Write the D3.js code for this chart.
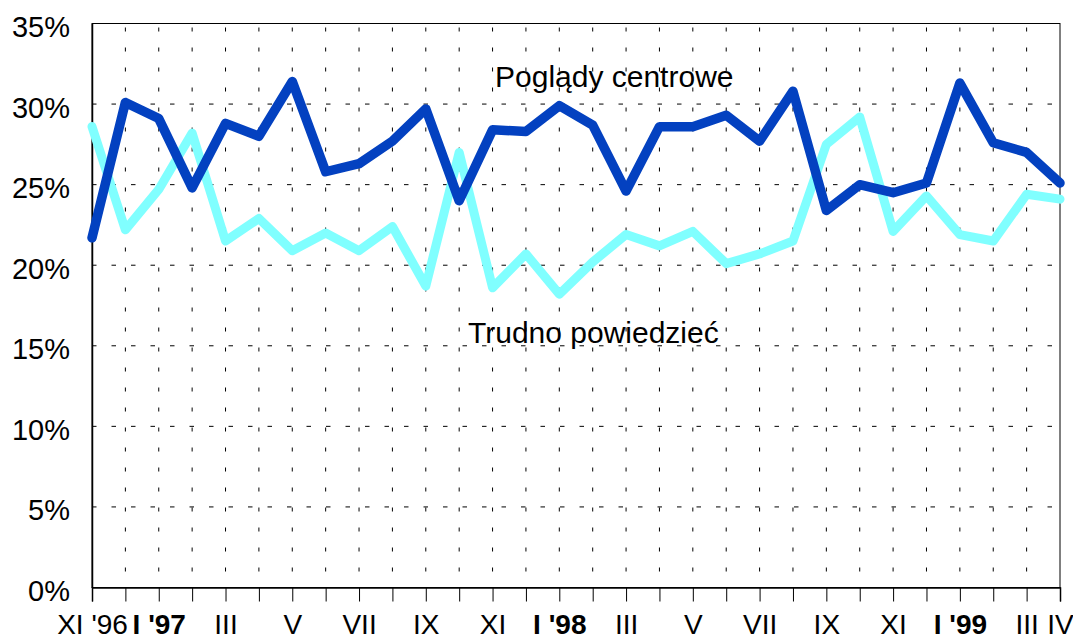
<!DOCTYPE html>
<html>
<head>
<meta charset="utf-8">
<script src="https://cdn.jsdelivr.net/npm/d3@7"></script>
<style>
  body { margin: 0; background: #fff; }
  text { font-family: "Liberation Sans", Arial, sans-serif; fill: #000; }
</style>
</head>
<body>
<div id="chart"></div>
<script>
// months Nov '96 .. Apr '99, label only every second month
var months = ["XI '96","XII","I '97","II","III","IV","V","VI","VII","VIII","IX","X",
  "XI","XII","I '98","II","III","IV","V","VI","VII","VIII","IX","X",
  "XI","XII","I '99","II","III","IV"];
var shownLabels = ["XI '96","","I '97","","III","","V","","VII","","IX","",
  "XI","","I '98","","III","","V","","VII","","IX","",
  "XI","","I '99","","III","IV"];
var boldLabels = ["I '97","I '98","I '99"];

var centrowe = [21.7,30.1,29.1,24.8,28.8,28.0,31.4,25.8,26.3,27.7,29.7,24.0,
  28.4,28.3,29.9,28.7,24.6,28.6,28.6,29.3,27.7,30.8,23.4,25.0,
  24.5,25.1,31.3,27.6,27.0,25.1];
var trudno = [28.6,22.2,24.7,28.2,21.5,22.9,20.9,22.0,20.9,22.4,18.7,27.0,
  18.6,20.7,18.2,20.2,21.9,21.2,22.1,20.1,20.7,21.5,27.5,29.2,
  22.1,24.3,21.9,21.5,24.4,24.1];

var yTicks = [0,5,10,15,20,25,30,35];

var width = 1073,
  height = 637;
var margin = {top: 23.5, right: 13, bottom: 49.5, left: 92};

var svg = d3.select('#chart').append('svg')
  .attr('width', width)
  .attr('height', height);

var x = d3.scalePoint()
  .domain(d3.range(months.length))
  .range([margin.left, width - margin.right]);

var y = d3.scaleLinear()
  .domain([0, 35])
  .range([height - margin.bottom, margin.top]);

// gridlines
svg.append("g")
  .selectAll("line")
  .data(yTicks.filter(function(d) { return d > 0 && d < 35; }))
  .join("line")
  .attr("x1", x(0))
  .attr("x2", x(months.length - 1))
  .attr("y1", function(d) { return y(d); })
  .attr("y2", function(d) { return y(d); })
  .style("stroke", "#000")
  .style("stroke-width", 1)
  .style("stroke-dasharray", "4.5,15");

svg.append("g")
  .selectAll("line")
  .data(d3.range(1, months.length - 1))
  .join("line")
  .attr("x1", function(d) { return x(d); })
  .attr("x2", function(d) { return x(d); })
  .attr("y1", y(0))
  .attr("y2", y(35))
  .style("stroke", "#000")
  .style("stroke-width", 1)
  .style("stroke-dasharray", "0,16,4,0");

// frame
svg.append("rect")
  .attr("x", x(0))
  .attr("y", y(35))
  .attr("width", x(months.length - 1) - x(0))
  .attr("height", y(0) - y(35))
  .style("fill", "none")
  .style("stroke", "#000")
  .style("stroke-width", 1);

// y axis labels
var yAxis = svg.append("g")
  .attr("transform", "translate(" + x(0) + ",0)")
  .call(d3.axisLeft(y).tickValues(yTicks).tickSize(0).tickPadding(22)
    .tickFormat(function(d) { return d + "%"; }));
yAxis.select(".domain").attr("stroke", "#000").attr("stroke-width", 1.5);
yAxis.selectAll("text")
  .attr("dy", 13)
  .style("font-size", "29px")
  .style("font-family", "'Liberation Sans', Arial, sans-serif");

// x axis
var xAxis = svg.append("g")
  .attr("transform", "translate(0," + y(0) + ")")
  .call(d3.axisBottom(x).tickSize(14).tickSizeOuter(14)
    .tickFormat(function(i) { return shownLabels[i]; }));
xAxis.select(".domain").attr("stroke", "#000").attr("stroke-width", 1.5);
xAxis.selectAll(".tick line").attr("stroke", "#000");
xAxis.selectAll("text")
  .attr("y", 46.5)
  .attr("dy", 0)
  .style("font-size", "28px")
  .style("font-family", "'Liberation Sans', Arial, sans-serif")
  .style("font-weight", function(i) { return boldLabels.indexOf(shownLabels[i]) >= 0 ? "bold" : "normal"; });

// series lines
var line = d3.line()
  .x(function(d, i) { return x(i); })
  .y(function(d) { return y(d); });

svg.append("path")
  .datum(trudno)
  .attr("d", line)
  .style("fill", "none")
  .style("stroke", "#80FFFF")
  .style("stroke-width", 9)
  .style("stroke-linejoin", "round")
  .style("stroke-linecap", "round");

svg.append("path")
  .datum(centrowe)
  .attr("d", line)
  .style("fill", "none")
  .style("stroke", "#0341C0")
  .style("stroke-width", 9.5)
  .style("stroke-linejoin", "round")
  .style("stroke-linecap", "round");

// series annotations
svg.append("text")
  .text("Poglądy centrowe")
  .attr("x", 495)
  .attr("y", 86.5)
  .style("font-size", "30px");

svg.append("text")
  .text("Trudno powiedzieć")
  .attr("x", 468)
  .attr("y", 343)
  .style("font-size", "30px");
</script>
</body>
</html>
